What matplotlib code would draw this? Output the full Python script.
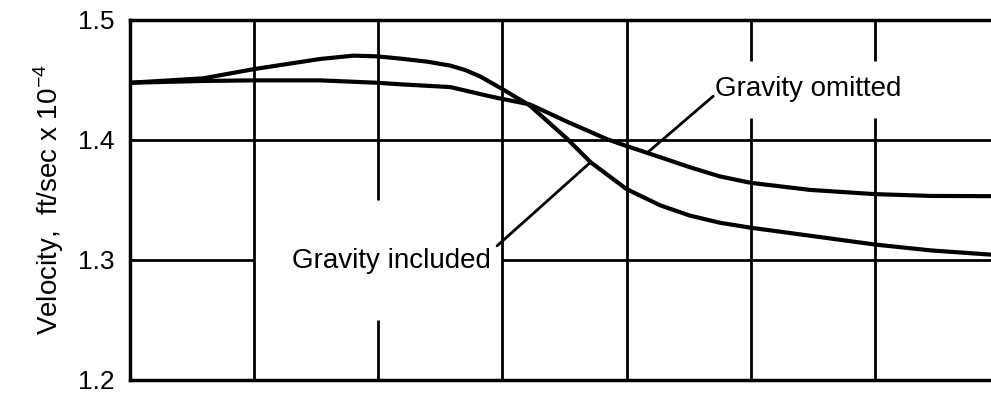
import numpy as np
import matplotlib
matplotlib.use('Agg')
import matplotlib.pyplot as plt

plt.rcParams['font.family'] = ['Liberation Sans', 'DejaVu Sans']

# distance along the run, in grid divisions
x_incl = [0.0, 0.59, 1.0, 1.53, 1.8, 1.99, 2.18, 2.4, 2.58, 2.7, 2.82, 3.0,
          3.22, 3.52, 3.71, 4.0, 4.27, 4.51, 4.75, 5.0, 5.48, 6.0, 6.45, 6.93,
          7.0]
v_incl = [1.4477, 1.4514, 1.4591, 1.4675, 1.4703, 1.4697, 1.4678, 1.4652,
          1.4620, 1.4583, 1.4530, 1.4424, 1.4288, 1.4011, 1.3815, 1.3591,
          1.3456, 1.3370, 1.3311, 1.3269, 1.3202, 1.3129, 1.3080, 1.3045,
          1.3043]

x_omit = [0.0, 0.59, 1.0, 1.53, 1.99, 2.18, 2.58, 2.9, 3.0, 3.22, 3.52, 3.84,
          4.0, 4.27, 4.51, 4.75, 5.0, 5.48, 6.0, 6.45, 6.93, 7.0]
v_omit = [1.4477, 1.4492, 1.4497, 1.4497, 1.4477, 1.4464, 1.4441, 1.4364,
          1.4342, 1.4297, 1.4153, 1.4008, 1.3950, 1.3857, 1.3773, 1.3697,
          1.3643, 1.3584, 1.3549, 1.3534, 1.3532, 1.3532]

y_ticks = [1.2, 1.3, 1.4, 1.5]
y_labels = ['1.2', '1.3', '1.4', '1.5']

fig = plt.figure(figsize=(9.91, 3.96), dpi=100)
ax = fig.add_axes([130 / 991, 16 / 396, 869 / 991, 360 / 396])
ax.set_xlim(0, 7)
ax.set_ylim(1.2, 1.5)

# grid, broken where the labels sit
gw = 2.0
ax.hlines(1.4, 0, 7, color='black', lw=gw)
ax.hlines(1.3, 0, 1, color='black', lw=gw)
ax.hlines(1.3, 3, 7, color='black', lw=gw)
for gx in [1, 3, 4]:
    ax.vlines(gx, 1.2, 1.5, color='black', lw=gw)
ax.vlines(2, 1.2, 1.25, color='black', lw=gw)
ax.vlines(2, 1.35, 1.5, color='black', lw=gw)
for gx in [5, 6]:
    ax.vlines(gx, 1.2, 1.418, color='black', lw=gw)
    ax.vlines(gx, 1.466, 1.5, color='black', lw=gw)

ax.plot(x_incl, v_incl, color='black', lw=3.0,
        solid_joinstyle='round', solid_capstyle='round')
ax.plot(x_omit, v_omit, color='black', lw=3.0,
        solid_joinstyle='round', solid_capstyle='round')

# labels and leader lines
ax.text(1.305, 1.2935, 'Gravity included', fontsize=20, ha='left', va='baseline')
ax.annotate('', xy=(3.71, np.interp(3.71, x_incl, v_incl)), xytext=(2.957, 1.3118),
            arrowprops=dict(arrowstyle='-', lw=2.0, color='black',
                            shrinkA=0, shrinkB=0))
ax.text(4.714, 1.437, 'Gravity omitted', fontsize=20, ha='left', va='baseline')
ax.annotate('', xy=(4.166, np.interp(4.166, x_omit, v_omit)), xytext=(4.698, 1.4365),
            arrowprops=dict(arrowstyle='-', lw=2.0, color='black',
                            shrinkA=0, shrinkB=0))

ax.set_xticks([])
ax.set_yticks(y_ticks)
ax.set_yticklabels(y_labels)
ax.tick_params(axis='y', length=0, pad=11, labelsize=19)
ax.set_ylabel('Velocity,  ft/sec x 10$^{\\mathregular{-4}}$', fontsize=20, labelpad=9)

for side in ['left', 'top', 'bottom']:
    ax.spines[side].set_linewidth(2.5)
ax.spines['right'].set_visible(False)

fig.savefig('out.png', dpi=100)
